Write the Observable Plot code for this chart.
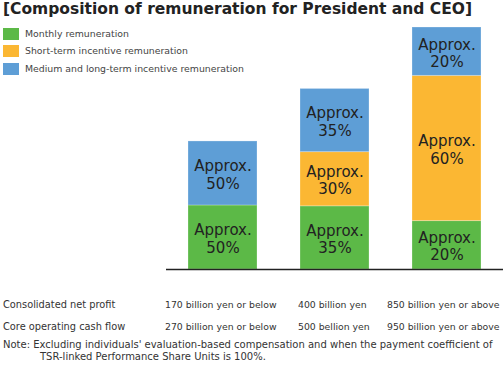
<!DOCTYPE html>
<html>
<head>
<meta charset="utf-8">
<script src="https://cdn.jsdelivr.net/npm/d3@7"></script>
<script src="https://cdn.jsdelivr.net/npm/@observablehq/plot@0.6"></script>
<style>
  html, body { margin: 0; padding: 0; background: #fff; }
  #wrap { position: relative; width: 503px; height: 367px; overflow: hidden; font-family: "DejaVu Sans", Verdana, sans-serif; }
  #chart { position: absolute; left: 0; top: 0; }
  .abs { position: absolute; white-space: nowrap; }
  #title { left: 3px; top: 0px; font-weight: bold; font-size: 15.5px; color: #222; }
  .sw { position: absolute; width: 16px; height: 12px; left: 3px; }
  .lg { position: absolute; left: 25px; font-size: 9.35px; color: #444; line-height: 12px; }
  .row { font-size: 9.8px; color: #333; line-height: 12px; }
  .col { font-size: 9.3px; color: #333; line-height: 12px; }
  .note { font-size: 10px; color: #333; line-height: 12px; }
</style>
</head>
<body>
<div id="wrap">
  <div id="chart"></div>
  <div id="title" class="abs"></div>
  <div id="legend"></div>
  <div id="table"></div>
</div>
<script>
// ---- data ----
const series = ["Monthly remuneration", "Short-term incentive remuneration", "Medium and long-term incentive remuneration"];
const colors = ["#5cb947", "#fbb733", "#5e9ed6"];
const categories = ["170 billion yen or below", "400 billion yen", "850 billion yen or above"];
const cashFlow = ["270 billion yen or below", "500 bellion yen", "950 billion yen or above"];
const totals = [100, 141, 189];          // relative total remuneration level
const monthlyPct = [50, 35, 20];
const shortTermPct = [0, 30, 60];
const mediumLongPct = [50, 35, 20];
const titleText = "[Composition of remuneration for President and CEO]";
const rowLabels = ["Consolidated net profit", "Core operating cash flow"];
const noteLines = ["Note: Excluding individuals' evaluation-based compensation and when the payment coefficient of", "TSR-linked Performance Share Units is 100%."];

// ---- build table ----
const pcts = [monthlyPct, shortTermPct, mediumLongPct];
const data = [];
categories.forEach((c, i) => {
  series.forEach((s, k) => {
    const p = pcts[k][i];
    if (p > 0) data.push({category: c, series: s, order: k, pct: p, value: totals[i] * p / 100});
  });
});

const plot = Plot.plot({
  width: 503,
  height: 367,
  marginLeft: 188,
  marginRight: 22,
  marginTop: 27,
  marginBottom: 98,
  x: {type: "band", domain: categories, paddingInner: 0.384, paddingOuter: 0, axis: null},
  y: {domain: [0, d3.max(totals)], axis: null},
  color: {domain: series, range: colors},
  style: {fontFamily: "DejaVu Sans, Verdana, sans-serif"},
  marks: [
    Plot.barY(data, Plot.stackY({x: "category", y: "value", fill: "series", z: "series", order: "order", stroke: "#ffffff", strokeOpacity: 0.25, strokeWidth: 1})),
    Plot.text(data, Plot.stackY({x: "category", y: "value", z: "series", order: "order",
      text: d => "Approx.\n" + d.pct + "%", fontSize: 15, fill: "#222", lineHeight: 1.15, dy: 1})),
    Plot.ruleY([0], {insetLeft: -22, insetRight: -22, stroke: "#222", strokeWidth: 1.5})
  ]
});
document.getElementById("chart").appendChild(plot);

// ---- title ----
document.getElementById("title").textContent = titleText;

// ---- legend ----
const legend = document.getElementById("legend");
const legendTops = [28, 45, 63];
series.forEach((s, k) => {
  const sw = document.createElement("div");
  sw.className = "sw";
  sw.style.top = legendTops[k] + "px";
  sw.style.background = colors[k];
  legend.appendChild(sw);
  const t = document.createElement("div");
  t.className = "lg abs";
  t.style.top = legendTops[k] + "px";
  t.textContent = s;
  legend.appendChild(t);
});

// ---- table below ----
const table = document.getElementById("table");
function addText(cls, text, left, top) {
  const d = document.createElement("div");
  d.className = "abs " + cls;
  d.style.left = left + "px";
  d.style.top = top + "px";
  d.textContent = text;
  table.appendChild(d);
}
const colLefts = [165, 298, 387];
const rowTops = [299, 321];
addText("row", rowLabels[0], 3, rowTops[0]);
addText("row", rowLabels[1], 3, rowTops[1]);
categories.forEach((c, i) => addText("col", c, colLefts[i], rowTops[0]));
cashFlow.forEach((c, i) => addText("col", c, colLefts[i], rowTops[1]));
addText("note", noteLines[0], 3, 339);
addText("note", noteLines[1], 40, 351);
</script>
</body>
</html>
